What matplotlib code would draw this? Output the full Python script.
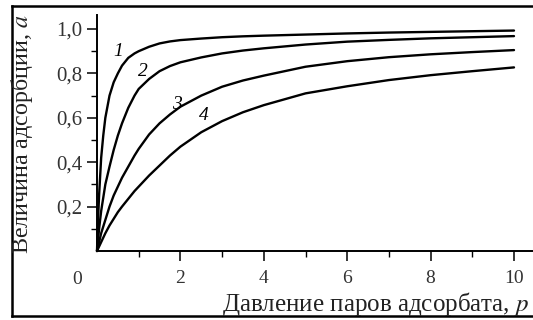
import matplotlib
matplotlib.use("Agg")
import matplotlib.pyplot as plt
from matplotlib.lines import Line2D
from matplotlib.ticker import FixedLocator, NullFormatter

plt.rcParams['font.family'] = ['Liberation Serif', 'DejaVu Serif']
plt.rcParams['mathtext.fontset'] = 'stix'

# pressure points and adsorption values
p = [0, 0.02, 0.05, 0.1, 0.15, 0.2, 0.3, 0.4, 0.5, 0.6, 0.75, 0.9, 1, 1.25, 1.5,
     1.75, 2, 2.5, 3, 3.5, 4, 5, 6, 7, 8, 9, 10]
a1 = [0, 0.12, 0.25, 0.42, 0.52, 0.6, 0.7, 0.76, 0.8, 0.835, 0.87, 0.89, 0.9, 0.92,
      0.935, 0.944, 0.95, 0.957, 0.963, 0.967, 0.97, 0.975, 0.98, 0.984, 0.987,
      0.99, 0.993]
a2 = [0, 0.04, 0.1, 0.18, 0.24, 0.3, 0.38, 0.455, 0.52, 0.575, 0.645, 0.7, 0.73,
      0.775, 0.81, 0.833, 0.85, 0.872, 0.89, 0.903, 0.913, 0.93, 0.943, 0.951,
      0.958, 0.963, 0.968]
a3 = [0, 0.016, 0.04, 0.08, 0.11, 0.14, 0.2, 0.25, 0.29, 0.33, 0.38, 0.43, 0.46,
      0.525, 0.575, 0.615, 0.65, 0.7, 0.74, 0.768, 0.79, 0.83, 0.855, 0.873,
      0.886, 0.896, 0.905]
a4 = [0, 0.008, 0.02, 0.04, 0.06, 0.08, 0.115, 0.145, 0.175, 0.2, 0.235, 0.27,
      0.29, 0.34, 0.385, 0.43, 0.47, 0.535, 0.585, 0.625, 0.657, 0.71, 0.742,
      0.77, 0.792, 0.81, 0.827]
curves = [a1, a2, a3, a4]
curve_names = ["1", "2", "3", "4"]
label_pos = [(0.50, 0.90), (1.10, 0.81), (1.92, 0.66), (2.57, 0.61)]

x_major = [2, 4, 6, 8, 10]
x_minor = [1, 3, 5, 7, 9]
y_major = [0.2, 0.4, 0.6, 0.8, 1.0]
y_minor = [0.1, 0.3, 0.5, 0.7, 0.9]
y_ticklabels = ["0,2", "0,4", "0,6", "0,8", "1,0"]

W, H = 533, 320
fig = plt.figure(figsize=(W / 100, H / 100), dpi=100)
ax = fig.add_axes([97 / W, 69 / H, 10.5 * 41.7 / W, 1.063 * 222 / H])

for a in curves:
    ax.plot(p, a, color="black", lw=1.7, solid_joinstyle="round",
            solid_capstyle="round", clip_on=False)

for name, (x, y) in zip(curve_names, label_pos):
    ax.text(x, y, name, fontsize=14, style="italic", ha="center", va="center")

ax.set_xlim(0, 10.5)
ax.set_ylim(0, 1.063)
for s in ["top", "right"]:
    ax.spines[s].set_visible(False)
for s in ["left", "bottom"]:
    ax.spines[s].set_linewidth(1.4)

ax.set_xticks(x_major)
ax.set_xticklabels([str(v) for v in x_major])
ax.xaxis.set_minor_locator(FixedLocator(x_minor))
ax.set_yticks(y_major)
ax.set_yticklabels(y_ticklabels)
ax.yaxis.set_minor_locator(FixedLocator(y_minor))
ax.yaxis.set_minor_formatter(NullFormatter())

ax.tick_params(which="major", length=7, width=1.1, labelsize=14, labelcolor="#333333")
ax.tick_params(axis="x", which="major", pad=7)
ax.tick_params(axis="y", which="major", pad=3.5, labelsize=15)
ax.tick_params(which="minor", length=4, width=1.0)

# origin label
fig.text(77 / W, 1 - 279 / H, "0", fontsize=14, color="#333333", ha="center", va="center")

fig.text(22 / W, 1 - 254 / H, "Величина адсорбции, $a$", fontsize=17.3,
         rotation=90, ha="center", va="bottom", color="#222222")
fig.text(222 / W, 1 - 311 / H, "Давление паров адсорбата, $p$", fontsize=18,
         ha="left", va="baseline", color="#222222")

# outer frame of the cropped figure
for xs, ys in [([12 / W, 1.0], [1 - 6 / H] * 2),
               ([12 / W] * 2, [1 - 6 / H, 1 - 316 / H]),
               ([12 / W, 1.0], [1 - 316 / H] * 2)]:
    fig.add_artist(Line2D(xs, ys, color="black", lw=1.8, transform=fig.transFigure))

fig.savefig("out.png", dpi=100)
